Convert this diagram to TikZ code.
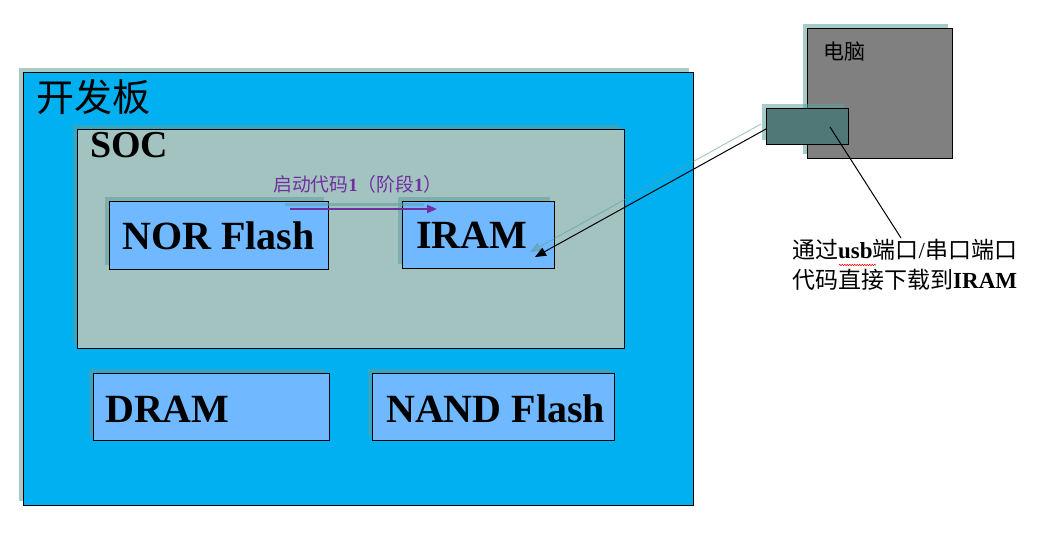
\documentclass[tikz,border=0pt]{standalone}
\usepackage{fontspec}
\setmainfont{Liberation Serif}
\newfontfamily\cjk{Noto Sans CJK SC}
\usetikzlibrary{shadows,arrows.meta,decorations.pathmorphing}
\definecolor{boardblue}{HTML}{00B0F0}
\definecolor{socgray}{HTML}{A3C3C1}
\definecolor{chipblue}{HTML}{70B8FF}
\definecolor{shadowc}{RGB}{95,158,160}
\definecolor{pcgray}{HTML}{808080}
\definecolor{portteal}{HTML}{507876}
\definecolor{codepurple}{HTML}{7030A0}
\tikzset{
  pshadow/.style={drop shadow={shadow xshift=-5pt,shadow yshift=5pt,fill=shadowc,draw=none,opacity=0.55}},
  panel/.style={draw=black,line width=1pt,rectangle,inner sep=0pt,anchor=north west,pshadow},
  chiplabel/.style={font=\fontsize{40}{44}\selectfont\bfseries,inner sep=0pt,anchor=base west},
  soclabel/.style={font=\fontsize{38}{42}\selectfont\bfseries,inner sep=0pt,anchor=base west},
  cjklabel/.style={inner sep=0pt,anchor=west},
  blackarrow/.style={draw=black,line width=1pt,-{Triangle[length=11pt,width=9pt]}},
  shadowarrow/.style={draw=shadowc,opacity=0.55,line width=1pt,-{Triangle[length=11pt,width=9pt]}},
  bootarrow/.style={draw=codepurple,line width=2pt,-{Triangle[length=10pt,width=8pt]}},
  bootshadow/.style={draw=shadowc,opacity=0.55,line width=3pt},
  noteline/.style={draw=black,line width=1pt},
}
\begin{document}
\begin{tikzpicture}[x=1pt,y=-1pt]
\useasboundingbox (0,0) rectangle (1050,550);
% board
\node[panel,fill=boardblue,minimum width=670pt,minimum height=433pt] (board) at (23,72) {};
\node[cjklabel,font=\cjk\fontsize{38}{40}\selectfont] (boardlbl) at (36,97.5) {开发板};
% SOC
\node[panel,fill=socgray,minimum width=547pt,minimum height=219pt] (soc) at (77,129) {};
\node[soclabel] (soclbl) at (90,157) {SOC};
% NOR and IRAM
\node[panel,fill=chipblue,minimum width=219pt,minimum height=68pt] (nor) at (109,201) {};
\node[chiplabel] (norlbl) at (122,249) {NOR Flash};
\node[panel,fill=chipblue,minimum width=152pt,minimum height=67pt] (iram) at (402,201) {};
\node[chiplabel] (iramlbl) at (416,248) {IRAM};
% DRAM and NAND
\node[panel,fill=chipblue,minimum width=236pt,minimum height=67pt] (dram) at (93,373) {};
\node[chiplabel] (dramlbl) at (105,422) {DRAM};
\node[panel,fill=chipblue,minimum width=242pt,minimum height=67pt] (nand) at (372,373) {};
\node[chiplabel] (nandlbl) at (386,422) {NAND Flash};
% boot arrow
\coordinate (bootshs) at (285,204);
\coordinate (bootshe) at (424,204);
\draw[bootshadow] (bootshs) -- (bootshe);
\coordinate (bootstart) at (290,209);
\coordinate (bootend) at (437,209);
\draw[bootarrow] (bootstart) -- (bootend);
\node[cjklabel,text=codepurple,font=\fontsize{18.8}{20}\selectfont] (bootlbl) at (273,184)
  {{\cjk 启动代码}\textbf{1}{\cjk （阶段}\textbf{1}{\cjk ）}};
% PC
\node[panel,fill=pcgray,minimum width=145pt,minimum height=130pt] (pc) at (807,28) {};
\node[cjklabel,font=\cjk\fontsize{21}{24}\selectfont] (pclbl) at (823,52) {电脑};
\node[panel,fill=portteal,minimum width=82pt,minimum height=36pt] (port) at (766,108) {};
% download arrow
\coordinate (usbsh) at (761,124);
\coordinate (iramsh) at (530,252);
\draw[shadowarrow] (usbsh) -- (iramsh);
\coordinate (usbout) at (766,129);
\coordinate (iramin) at (535,257);
\draw[blackarrow] (usbout) -- (iramin);
% note
\coordinate (portmid) at (830,127);
\coordinate (notetop) at (901,238);
\draw[noteline] (portmid) -- (notetop);
\node[inner sep=0pt,anchor=north west,align=left,font=\fontsize{23}{30}\selectfont] (note) at (792,239)
  {{\cjk 通过}\textbf{usb}{\cjk 端口}/{\cjk 串口端口}\\{\cjk 代码直接下载到}\textbf{IRAM}};
\draw[red,line width=0.5pt,decorate,decoration={snake,amplitude=0.8pt,segment length=2.5pt}] (839,265) -- (876,265);
\end{tikzpicture}
\end{document}
